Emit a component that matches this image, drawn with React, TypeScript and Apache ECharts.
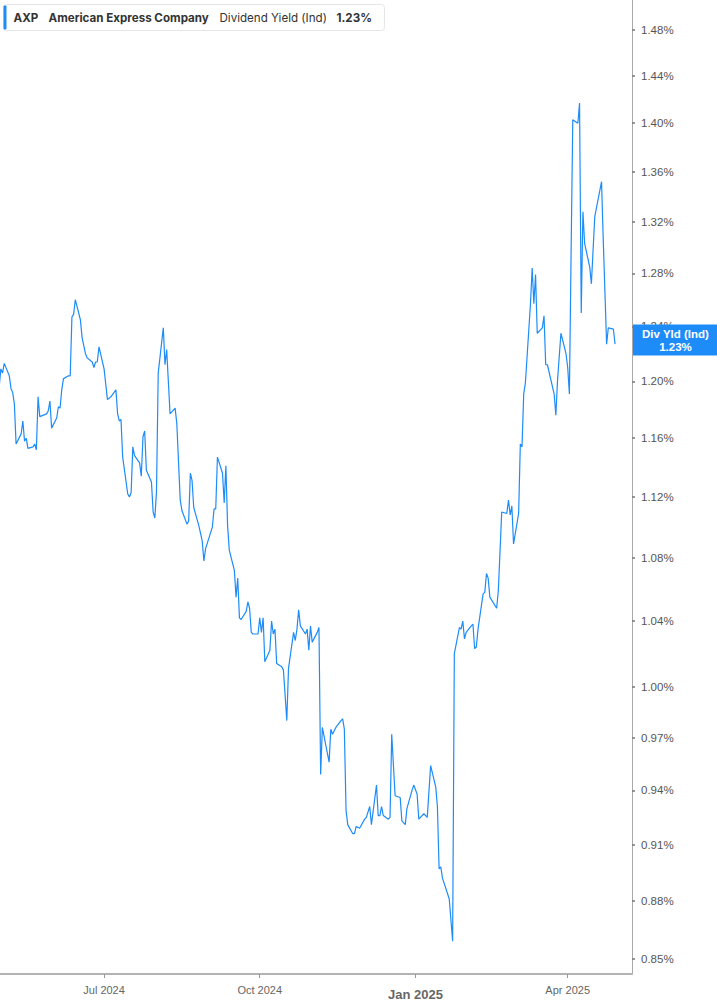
import React, { useEffect, useRef } from 'react';
import * as echarts from 'echarts';

const dates = [
  '2024-04-30',
  '2024-05-01', '2024-05-02', '2024-05-03', '2024-05-06', '2024-05-07', '2024-05-08', '2024-05-09', '2024-05-10', '2024-05-13', '2024-05-14', '2024-05-15', '2024-05-16', '2024-05-17', '2024-05-20', '2024-05-21', '2024-05-22', '2024-05-23', '2024-05-24', '2024-05-28', '2024-05-29', '2024-05-30', '2024-05-31',
  '2024-06-03', '2024-06-04', '2024-06-05', '2024-06-06', '2024-06-07', '2024-06-10', '2024-06-11', '2024-06-12', '2024-06-13', '2024-06-14', '2024-06-17', '2024-06-18', '2024-06-20', '2024-06-21', '2024-06-24', '2024-06-25', '2024-06-26', '2024-06-27', '2024-06-28',
  '2024-07-01', '2024-07-02', '2024-07-03', '2024-07-05', '2024-07-08', '2024-07-09', '2024-07-10', '2024-07-11', '2024-07-12', '2024-07-15', '2024-07-16', '2024-07-17', '2024-07-18', '2024-07-19', '2024-07-22', '2024-07-23', '2024-07-24', '2024-07-25', '2024-07-26', '2024-07-29', '2024-07-30', '2024-07-31',
  '2024-08-01', '2024-08-02', '2024-08-05', '2024-08-06', '2024-08-07', '2024-08-09', '2024-08-12', '2024-08-13', '2024-08-15', '2024-08-16', '2024-08-19', '2024-08-20', '2024-08-21', '2024-08-22', '2024-08-23', '2024-08-26', '2024-08-28', '2024-08-29', '2024-08-30',
  '2024-09-03', '2024-09-04', '2024-09-05', '2024-09-06', '2024-09-09', '2024-09-10', '2024-09-11', '2024-09-12', '2024-09-13', '2024-09-16', '2024-09-17', '2024-09-18', '2024-09-19', '2024-09-20', '2024-09-23', '2024-09-24', '2024-09-25', '2024-09-26', '2024-09-27', '2024-09-30',
  '2024-10-01', '2024-10-02', '2024-10-03', '2024-10-04', '2024-10-07', '2024-10-08', '2024-10-09', '2024-10-10', '2024-10-11', '2024-10-14', '2024-10-15', '2024-10-17', '2024-10-18', '2024-10-21', '2024-10-22', '2024-10-23', '2024-10-24', '2024-10-25', '2024-10-28', '2024-10-29', '2024-10-30', '2024-10-31',
  '2024-11-01', '2024-11-04', '2024-11-05', '2024-11-06', '2024-11-07', '2024-11-08', '2024-11-11', '2024-11-12', '2024-11-13', '2024-11-15', '2024-11-18', '2024-11-19', '2024-11-20', '2024-11-21', '2024-11-22', '2024-11-25', '2024-11-26', '2024-11-27', '2024-11-29',
  '2024-12-02', '2024-12-03', '2024-12-05', '2024-12-06', '2024-12-09', '2024-12-10', '2024-12-11', '2024-12-12', '2024-12-13', '2024-12-16', '2024-12-17', '2024-12-18', '2024-12-20', '2024-12-23', '2024-12-24', '2024-12-26', '2024-12-27', '2024-12-30', '2024-12-31',
  '2025-01-02', '2025-01-03', '2025-01-06', '2025-01-08', '2025-01-10', '2025-01-13', '2025-01-14', '2025-01-15', '2025-01-16', '2025-01-17', '2025-01-21', '2025-01-23', '2025-01-24', '2025-01-27', '2025-01-28', '2025-01-29', '2025-01-30', '2025-01-31',
  '2025-02-03', '2025-02-04', '2025-02-05', '2025-02-06', '2025-02-07', '2025-02-10', '2025-02-11', '2025-02-12', '2025-02-13', '2025-02-14', '2025-02-18', '2025-02-19', '2025-02-21', '2025-02-24', '2025-02-25', '2025-02-26', '2025-02-27', '2025-02-28',
  '2025-03-03', '2025-03-04', '2025-03-05', '2025-03-06', '2025-03-07', '2025-03-10', '2025-03-11', '2025-03-12', '2025-03-13', '2025-03-14', '2025-03-17', '2025-03-18', '2025-03-19', '2025-03-20', '2025-03-24', '2025-03-25', '2025-03-26', '2025-03-28', '2025-03-31',
  '2025-04-01', '2025-04-02', '2025-04-03', '2025-04-04', '2025-04-07', '2025-04-08', '2025-04-09', '2025-04-10', '2025-04-11', '2025-04-14', '2025-04-15', '2025-04-16', '2025-04-17', '2025-04-21', '2025-04-22', '2025-04-24', '2025-04-25', '2025-04-28', '2025-04-29',
];

// dividend yield (indicated), percent
const divYield = [
  1.196,
  1.209, 1.206, 1.213, 1.204, 1.195, 1.192, 1.184, 1.156, 1.163, 1.172, 1.158, 1.160, 1.153, 1.154, 1.156, 1.152, 1.189, 1.175, 1.177, 1.179, 1.186, 1.167,
  1.174, 1.182, 1.181, 1.194, 1.202, 1.204, 1.204, 1.247, 1.249, 1.260, 1.245, 1.232, 1.220, 1.217, 1.214, 1.210, 1.214, 1.214, 1.225,
  1.209, 1.198, 1.187, 1.189, 1.194, 1.177, 1.172, 1.173, 1.147, 1.122, 1.120, 1.123, 1.154, 1.148, 1.143, 1.134, 1.161, 1.165, 1.138, 1.130, 1.110, 1.106,
  1.124, 1.206, 1.239, 1.212, 1.223, 1.177, 1.181, 1.170, 1.118, 1.111, 1.102, 1.104, 1.136, 1.131, 1.113, 1.101, 1.091, 1.078, 1.086,
  1.100, 1.112, 1.112, 1.147, 1.136, 1.116, 1.141, 1.101, 1.085, 1.072, 1.055, 1.067, 1.042, 1.041, 1.046, 1.052, 1.048, 1.033, 1.032, 1.032,
  1.042, 1.033, 1.042, 1.015, 1.022, 1.040, 1.032, 1.035, 1.014, 1.012, 1.010, 0.980, 1.011, 1.033, 1.028, 1.035, 1.047, 1.037, 1.032, 1.035, 1.022, 1.037,
  1.027, 1.033, 1.036, 0.949, 0.976, 0.971, 0.956, 0.975, 0.972, 0.976, 0.980, 0.981, 0.975, 0.929, 0.921, 0.916, 0.916, 0.920, 0.919,
  0.924, 0.925, 0.931, 0.921, 0.943, 0.926, 0.926, 0.931, 0.926, 0.924, 0.925, 0.972, 0.937, 0.936, 0.923, 0.921, 0.930, 0.940, 0.943,
  0.938, 0.924, 0.927, 0.925, 0.954, 0.942, 0.931, 0.897, 0.898, 0.892, 0.881, 0.859, 1.020, 1.036, 1.035, 1.040, 1.029, 1.033,
  1.037, 1.038, 1.023, 1.024, 1.035, 1.057, 1.058, 1.070, 1.067, 1.055, 1.048, 1.059, 1.110, 1.109, 1.118, 1.108, 1.114, 1.089,
  1.109, 1.156, 1.154, 1.191, 1.199, 1.257, 1.284, 1.257, 1.279, 1.235, 1.239, 1.248, 1.212, 1.212, 1.191, 1.176, 1.201, 1.235, 1.220,
  1.210, 1.191, 1.295, 1.403, 1.400, 1.417, 1.250, 1.328, 1.303, 1.285, 1.272, 1.298, 1.324, 1.352, 1.306, 1.227, 1.239, 1.238, 1.227,
];

const yTicks = [0.85, 0.88, 0.91, 0.94, 0.97, 1.0, 1.04, 1.08, 1.12, 1.16, 1.2, 1.24, 1.28, 1.32, 1.36, 1.4, 1.44, 1.48];
const xTickDates = ['2024-07-01', '2024-10-01', '2025-01-01', '2025-04-01'];
const xTickLabels = ['Jul 2024', 'Oct 2024', 'Jan 2025', 'Apr 2025'];

const BLUE = '#1e8cf8';
const FONT = 'Liberation Sans, Arial, sans-serif';
const LEGEND_FONT = 'Inter, sans-serif';

const toTime = (d: string) => Date.parse(d + 'T00:00:00Z');

export default function App() {
  const chartRef = useRef<HTMLDivElement>(null);

  useEffect(() => {
    if (!chartRef.current) return;
    const chart = echarts.init(chartRef.current, null, { renderer: 'svg' });

    const last = divYield[divYield.length - 1];
    const lastText = last.toFixed(2) + '%';
    const tickTimes = xTickDates.map(toTime);

    const option: echarts.EChartsOption = {
      animation: false,
      grid: { left: 0, right: 85, top: 0, bottom: 31 },
      xAxis: {
        type: 'value',
        min: toTime('2024-04-30') + 12 * 3600e3,
        max: toTime('2025-05-09'),
        splitLine: { show: false },
        axisLine: { lineStyle: { color: '#b3b3b3', width: 2 } },
        axisTick: {
          customValues: tickTimes,
          length: 4,
          lineStyle: { color: '#999', width: 1 }
        } as any,
        axisLabel: {
          customValues: tickTimes,
          margin: 10,
          color: '#666',
          fontSize: 11,
          fontFamily: FONT,
          formatter: (v: number) => {
            let best = 0;
            tickTimes.forEach((t, i) => {
              if (Math.abs(t - v) < Math.abs(tickTimes[best] - v)) best = i;
            });
            const text = xTickLabels[best];
            return text.startsWith('Jan') ? '{b|' + text + '}' : text;
          },
          rich: {
            b: { fontSize: 13, fontWeight: 'bold', color: '#666', fontFamily: FONT, padding: [4, 0, 0, 0] }
          }
        } as any
      },
      yAxis: {
        type: 'log',
        position: 'right',
        min: 0.8424,
        max: 1.5069,
        splitLine: { show: false },
        axisLine: { show: true, lineStyle: { color: '#a8a8a8', width: 1 } },
        axisTick: {
          show: true,
          customValues: yTicks,
          length: 3,
          lineStyle: { color: '#777', width: 1.5 }
        } as any,
        axisLabel: {
          customValues: yTicks,
          margin: 9,
          color: '#555',
          fontSize: 11.5,
          fontFamily: FONT,
          formatter: (v: number) => v.toFixed(2) + '%'
        } as any
      },
      series: [
        {
          type: 'line',
          data: dates.map((d, i) => [toTime(d), divYield[i]]),
          showSymbol: false,
          symbol: 'none',
          lineStyle: { color: BLUE, width: 1.2 },
          itemStyle: { color: BLUE },
          markLine: {
            silent: true,
            symbol: 'none',
            lineStyle: { color: 'rgba(0,0,0,0)', width: 0 },
            data: [{ yAxis: last }],
            label: {
              show: true,
              position: 'end',
              distance: 1,
              backgroundColor: BLUE,
              padding: [3, 3, 2, 3],
              formatter: '{a|Div Yld (Ind)}\n{a|' + lastText + '}',
              rich: {
                a: {
                  width: 79,
                  align: 'center',
                  color: '#fff',
                  fontWeight: 'bold',
                  fontSize: 11.5,
                  lineHeight: 13,
                  fontFamily: FONT
                }
              }
            }
          }
        }
      ],
      graphic: [
        {
          type: 'group',
          left: 3,
          top: 4,
          children: [
            {
              type: 'rect',
              shape: { x: 0, y: 0, width: 381, height: 26, r: 3 },
              style: { fill: '#fff', stroke: '#e6e6e6', lineWidth: 1 }
            },
            {
              type: 'rect',
              shape: { x: 0, y: 1, width: 3, height: 24, r: 1 },
              style: { fill: BLUE }
            },
            {
              type: 'text',
              x: 10,
              y: 13,
              style: { text: 'AXP', fill: '#333', font: 'bold 11.6px ' + LEGEND_FONT, verticalAlign: 'middle' }
            },
            {
              type: 'text',
              x: 45,
              y: 13,
              style: { text: 'American Express Company', fill: '#333', font: 'bold 11.6px ' + LEGEND_FONT, verticalAlign: 'middle' }
            },
            {
              type: 'text',
              x: 216,
              y: 13,
              style: { text: 'Dividend Yield (Ind)', fill: '#333', font: '11.6px ' + LEGEND_FONT, verticalAlign: 'middle' }
            },
            {
              type: 'text',
              x: 333,
              y: 13,
              style: { text: lastText, fill: '#333', font: 'bold 11.6px ' + LEGEND_FONT, verticalAlign: 'middle' }
            }
          ]
        }
      ]
    };

    chart.setOption(option);
    return () => chart.dispose();
  }, []);

  return (
    <div
      ref={chartRef}
      style={{ position: 'absolute', left: 0, top: 0, width: 717, height: 1005, background: '#fff' }}
    />
  );
}
